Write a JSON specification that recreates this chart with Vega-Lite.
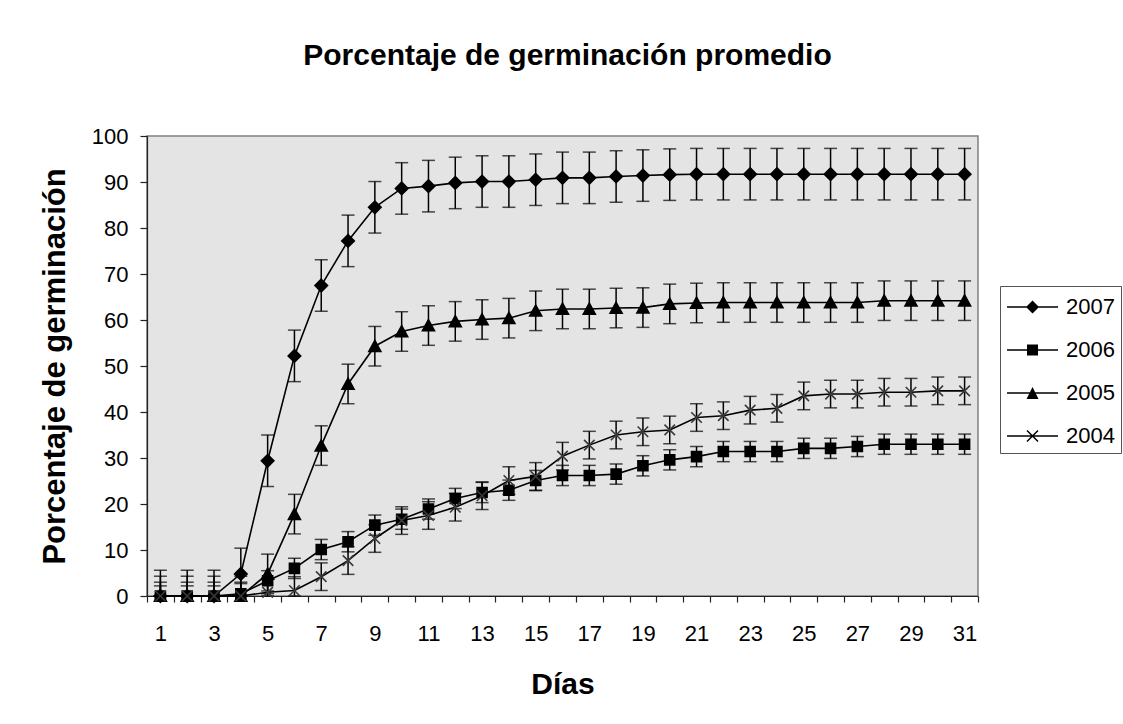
{
  "$schema": "https://vega.github.io/schema/vega-lite/v6.json",
  "autosize": {"type": "none"},
  "padding": {"left": 147, "top": 136, "right": 145, "bottom": 128},
  "width": 831,
  "height": 460,
  "background": "white",
  "title": {
    "text": "Porcentaje de germinación promedio",
    "font": "Liberation Sans",
    "fontSize": 30,
    "fontWeight": "bold",
    "color": "#000000",
    "anchor": "middle",
    "frame": "group",
    "baseline": "alphabetic",
    "offset": 30,
    "dx": 5
  },
  "config": {
    "view": {"fill": "#e4e4e4", "stroke": "#808080", "strokeWidth": 1.5},
    "axis": {
      "labelFont": "Liberation Sans",
      "labelFontSize": 22,
      "labelColor": "#000000",
      "titleFont": "Liberation Sans",
      "titleFontSize": 30,
      "titleFontWeight": "bold",
      "titleColor": "#000000",
      "domainColor": "#222222",
      "tickColor": "#222222",
      "domainWidth": 1.2,
      "tickWidth": 1.2,
      "grid": false
    }
  },
  "data": {
    "values": [
      {"day": 1, "year": "2007", "v": 0, "lo": 0, "hi": 5.6},
      {"day": 2, "year": "2007", "v": 0, "lo": 0, "hi": 5.6},
      {"day": 3, "year": "2007", "v": 0, "lo": 0, "hi": 5.6},
      {"day": 4, "year": "2007", "v": 4.8, "lo": 0, "hi": 10.4},
      {"day": 5, "year": "2007", "v": 29.4, "lo": 23.8, "hi": 35.0},
      {"day": 6, "year": "2007", "v": 52.2, "lo": 46.6, "hi": 57.8},
      {"day": 7, "year": "2007", "v": 67.5, "lo": 61.9, "hi": 73.1},
      {"day": 8, "year": "2007", "v": 77.2, "lo": 71.6, "hi": 82.8},
      {"day": 9, "year": "2007", "v": 84.5, "lo": 78.9, "hi": 90.1},
      {"day": 10, "year": "2007", "v": 88.6, "lo": 83.0, "hi": 94.2},
      {"day": 11, "year": "2007", "v": 89.1, "lo": 83.5, "hi": 94.7},
      {"day": 12, "year": "2007", "v": 89.8, "lo": 84.2, "hi": 95.4},
      {"day": 13, "year": "2007", "v": 90.1, "lo": 84.5, "hi": 95.7},
      {"day": 14, "year": "2007", "v": 90.1, "lo": 84.5, "hi": 95.7},
      {"day": 15, "year": "2007", "v": 90.5, "lo": 84.9, "hi": 96.1},
      {"day": 16, "year": "2007", "v": 90.9, "lo": 85.3, "hi": 96.5},
      {"day": 17, "year": "2007", "v": 90.9, "lo": 85.3, "hi": 96.5},
      {"day": 18, "year": "2007", "v": 91.2, "lo": 85.6, "hi": 96.8},
      {"day": 19, "year": "2007", "v": 91.4, "lo": 85.8, "hi": 97.0},
      {"day": 20, "year": "2007", "v": 91.6, "lo": 86.0, "hi": 97.2},
      {"day": 21, "year": "2007", "v": 91.7, "lo": 86.1, "hi": 97.3},
      {"day": 22, "year": "2007", "v": 91.7, "lo": 86.1, "hi": 97.3},
      {"day": 23, "year": "2007", "v": 91.7, "lo": 86.1, "hi": 97.3},
      {"day": 24, "year": "2007", "v": 91.7, "lo": 86.1, "hi": 97.3},
      {"day": 25, "year": "2007", "v": 91.7, "lo": 86.1, "hi": 97.3},
      {"day": 26, "year": "2007", "v": 91.7, "lo": 86.1, "hi": 97.3},
      {"day": 27, "year": "2007", "v": 91.7, "lo": 86.1, "hi": 97.3},
      {"day": 28, "year": "2007", "v": 91.7, "lo": 86.1, "hi": 97.3},
      {"day": 29, "year": "2007", "v": 91.7, "lo": 86.1, "hi": 97.3},
      {"day": 30, "year": "2007", "v": 91.7, "lo": 86.1, "hi": 97.3},
      {"day": 31, "year": "2007", "v": 91.7, "lo": 86.1, "hi": 97.3},

      {"day": 1, "year": "2006", "v": 0, "lo": 0, "hi": 2.2},
      {"day": 2, "year": "2006", "v": 0, "lo": 0, "hi": 2.2},
      {"day": 3, "year": "2006", "v": 0, "lo": 0, "hi": 2.2},
      {"day": 4, "year": "2006", "v": 0.5, "lo": 0, "hi": 2.7},
      {"day": 5, "year": "2006", "v": 3.3, "lo": 1.1, "hi": 5.5},
      {"day": 6, "year": "2006", "v": 6.0, "lo": 3.8, "hi": 8.2},
      {"day": 7, "year": "2006", "v": 10.1, "lo": 7.9, "hi": 12.3},
      {"day": 8, "year": "2006", "v": 11.8, "lo": 9.6, "hi": 14.0},
      {"day": 9, "year": "2006", "v": 15.4, "lo": 13.2, "hi": 17.6},
      {"day": 10, "year": "2006", "v": 16.7, "lo": 14.5, "hi": 18.9},
      {"day": 11, "year": "2006", "v": 18.9, "lo": 16.7, "hi": 21.1},
      {"day": 12, "year": "2006", "v": 21.2, "lo": 19.0, "hi": 23.4},
      {"day": 13, "year": "2006", "v": 22.5, "lo": 20.3, "hi": 24.7},
      {"day": 14, "year": "2006", "v": 23.0, "lo": 20.8, "hi": 25.2},
      {"day": 15, "year": "2006", "v": 25.1, "lo": 22.9, "hi": 27.3},
      {"day": 16, "year": "2006", "v": 26.2, "lo": 24.0, "hi": 28.4},
      {"day": 17, "year": "2006", "v": 26.2, "lo": 24.0, "hi": 28.4},
      {"day": 18, "year": "2006", "v": 26.5, "lo": 24.3, "hi": 28.7},
      {"day": 19, "year": "2006", "v": 28.3, "lo": 26.1, "hi": 30.5},
      {"day": 20, "year": "2006", "v": 29.6, "lo": 27.4, "hi": 31.8},
      {"day": 21, "year": "2006", "v": 30.3, "lo": 28.1, "hi": 32.5},
      {"day": 22, "year": "2006", "v": 31.4, "lo": 29.2, "hi": 33.6},
      {"day": 23, "year": "2006", "v": 31.4, "lo": 29.2, "hi": 33.6},
      {"day": 24, "year": "2006", "v": 31.4, "lo": 29.2, "hi": 33.6},
      {"day": 25, "year": "2006", "v": 32.1, "lo": 29.9, "hi": 34.3},
      {"day": 26, "year": "2006", "v": 32.1, "lo": 29.9, "hi": 34.3},
      {"day": 27, "year": "2006", "v": 32.5, "lo": 30.3, "hi": 34.7},
      {"day": 28, "year": "2006", "v": 33.0, "lo": 30.8, "hi": 35.2},
      {"day": 29, "year": "2006", "v": 33.0, "lo": 30.8, "hi": 35.2},
      {"day": 30, "year": "2006", "v": 33.0, "lo": 30.8, "hi": 35.2},
      {"day": 31, "year": "2006", "v": 33.0, "lo": 30.8, "hi": 35.2},

      {"day": 1, "year": "2005", "v": 0, "lo": 0, "hi": 4.3},
      {"day": 2, "year": "2005", "v": 0, "lo": 0, "hi": 4.3},
      {"day": 3, "year": "2005", "v": 0, "lo": 0, "hi": 4.3},
      {"day": 4, "year": "2005", "v": 0, "lo": 0, "hi": 4.3},
      {"day": 5, "year": "2005", "v": 4.8, "lo": 0.5, "hi": 9.1},
      {"day": 6, "year": "2005", "v": 17.8, "lo": 13.5, "hi": 22.1},
      {"day": 7, "year": "2005", "v": 32.7, "lo": 28.4, "hi": 37.0},
      {"day": 8, "year": "2005", "v": 46.1, "lo": 41.8, "hi": 50.4},
      {"day": 9, "year": "2005", "v": 54.3, "lo": 50.0, "hi": 58.6},
      {"day": 10, "year": "2005", "v": 57.5, "lo": 53.2, "hi": 61.8},
      {"day": 11, "year": "2005", "v": 58.8, "lo": 54.5, "hi": 63.1},
      {"day": 12, "year": "2005", "v": 59.7, "lo": 55.4, "hi": 64.0},
      {"day": 13, "year": "2005", "v": 60.1, "lo": 55.8, "hi": 64.4},
      {"day": 14, "year": "2005", "v": 60.4, "lo": 56.1, "hi": 64.7},
      {"day": 15, "year": "2005", "v": 62.0, "lo": 57.7, "hi": 66.3},
      {"day": 16, "year": "2005", "v": 62.4, "lo": 58.1, "hi": 66.7},
      {"day": 17, "year": "2005", "v": 62.4, "lo": 58.1, "hi": 66.7},
      {"day": 18, "year": "2005", "v": 62.6, "lo": 58.3, "hi": 66.9},
      {"day": 19, "year": "2005", "v": 62.7, "lo": 58.4, "hi": 67.0},
      {"day": 20, "year": "2005", "v": 63.5, "lo": 59.2, "hi": 67.8},
      {"day": 21, "year": "2005", "v": 63.7, "lo": 59.4, "hi": 68.0},
      {"day": 22, "year": "2005", "v": 63.8, "lo": 59.5, "hi": 68.1},
      {"day": 23, "year": "2005", "v": 63.8, "lo": 59.5, "hi": 68.1},
      {"day": 24, "year": "2005", "v": 63.8, "lo": 59.5, "hi": 68.1},
      {"day": 25, "year": "2005", "v": 63.8, "lo": 59.5, "hi": 68.1},
      {"day": 26, "year": "2005", "v": 63.8, "lo": 59.5, "hi": 68.1},
      {"day": 27, "year": "2005", "v": 63.8, "lo": 59.5, "hi": 68.1},
      {"day": 28, "year": "2005", "v": 64.2, "lo": 59.9, "hi": 68.5},
      {"day": 29, "year": "2005", "v": 64.2, "lo": 59.9, "hi": 68.5},
      {"day": 30, "year": "2005", "v": 64.2, "lo": 59.9, "hi": 68.5},
      {"day": 31, "year": "2005", "v": 64.2, "lo": 59.9, "hi": 68.5},

      {"day": 1, "year": "2004", "v": 0, "lo": 0, "hi": 3.0},
      {"day": 2, "year": "2004", "v": 0, "lo": 0, "hi": 3.0},
      {"day": 3, "year": "2004", "v": 0, "lo": 0, "hi": 3.0},
      {"day": 4, "year": "2004", "v": 0, "lo": 0, "hi": 3.0},
      {"day": 5, "year": "2004", "v": 0.8, "lo": 0, "hi": 3.8},
      {"day": 6, "year": "2004", "v": 1.2, "lo": 0, "hi": 4.2},
      {"day": 7, "year": "2004", "v": 4.2, "lo": 1.2, "hi": 7.2},
      {"day": 8, "year": "2004", "v": 7.7, "lo": 4.7, "hi": 10.7},
      {"day": 9, "year": "2004", "v": 12.5, "lo": 9.5, "hi": 15.5},
      {"day": 10, "year": "2004", "v": 16.4, "lo": 13.4, "hi": 19.4},
      {"day": 11, "year": "2004", "v": 17.5, "lo": 14.5, "hi": 20.5},
      {"day": 12, "year": "2004", "v": 19.3, "lo": 16.3, "hi": 22.3},
      {"day": 13, "year": "2004", "v": 21.8, "lo": 18.8, "hi": 24.8},
      {"day": 14, "year": "2004", "v": 25.1, "lo": 22.1, "hi": 28.1},
      {"day": 15, "year": "2004", "v": 26.0, "lo": 23.0, "hi": 29.0},
      {"day": 16, "year": "2004", "v": 30.4, "lo": 27.4, "hi": 33.4},
      {"day": 17, "year": "2004", "v": 32.8, "lo": 29.8, "hi": 35.8},
      {"day": 18, "year": "2004", "v": 35.0, "lo": 32.0, "hi": 38.0},
      {"day": 19, "year": "2004", "v": 35.7, "lo": 32.7, "hi": 38.7},
      {"day": 20, "year": "2004", "v": 36.1, "lo": 33.1, "hi": 39.1},
      {"day": 21, "year": "2004", "v": 38.8, "lo": 35.8, "hi": 41.8},
      {"day": 22, "year": "2004", "v": 39.2, "lo": 36.2, "hi": 42.2},
      {"day": 23, "year": "2004", "v": 40.4, "lo": 37.4, "hi": 43.4},
      {"day": 24, "year": "2004", "v": 40.8, "lo": 37.8, "hi": 43.8},
      {"day": 25, "year": "2004", "v": 43.5, "lo": 40.5, "hi": 46.5},
      {"day": 26, "year": "2004", "v": 43.9, "lo": 40.9, "hi": 46.9},
      {"day": 27, "year": "2004", "v": 43.9, "lo": 40.9, "hi": 46.9},
      {"day": 28, "year": "2004", "v": 44.3, "lo": 41.3, "hi": 47.3},
      {"day": 29, "year": "2004", "v": 44.3, "lo": 41.3, "hi": 47.3},
      {"day": 30, "year": "2004", "v": 44.6, "lo": 41.6, "hi": 47.6},
      {"day": 31, "year": "2004", "v": 44.6, "lo": 41.6, "hi": 47.6}
    ]
  },
  "encoding": {
    "x": {
      "field": "day",
      "type": "ordinal",
      "scale": {"type": "band", "paddingInner": 0, "paddingOuter": 0},
      "axis": {
        "title": "Días",
        "labelAngle": 0,
        "tickBand": "extent",
        "tickSize": 6,
        "labelPadding": 21,
        "titlePadding": 25,
        "labelExpr": "datum.value % 2 == 1 ? datum.label : ''"
      }
    }
  },
  "layer": [
    {
      "mark": {"type": "errorbar", "color": "#000000", "ticks": {"size": 13, "thickness": 1.5}, "rule": {"strokeWidth": 1.5}},
      "encoding": {
        "y": {"field": "lo", "type": "quantitative", "scale": {"domain": [0, 100]}, "title": "Porcentaje de germinación"},
        "y2": {"field": "hi"},
        "detail": {"field": "year"}
      }
    },
    {
      "mark": {"type": "line", "color": "#000000", "strokeWidth": 1.6},
      "encoding": {
        "y": {"field": "v", "type": "quantitative"},
        "detail": {"field": "year"}
      }
    },
    {
      "mark": {"type": "point", "filled": true, "fill": "#000000", "opacity": 1, "strokeWidth": 1.6, "size": 100},
      "encoding": {
        "y": {
          "field": "v",
          "type": "quantitative",
          "scale": {"domain": [0, 100]},
          "axis": {
            "title": "Porcentaje de germinación",
            "titleFontSize": 31,
            "values": [0, 10, 20, 30, 40, 50, 60, 70, 80, 90, 100],
            "tickSize": 7,
            "labelPadding": 12,
            "titlePadding": 20
          }
        },
        "stroke": {
          "condition": {"test": "datum.year == '2004'", "value": "#3a3a3a"},
          "value": "#000000"
        },
        "shape": {
          "field": "year",
          "type": "nominal",
          "scale": {
            "domain": ["2007", "2006", "2005", "2004"],
            "range": [
              "M0,-1.25L1.25,0L0,1.25L-1.25,0Z",
              "M-1,-1L1,-1L1,1L-1,1Z",
              "M0,-1.15L1.2,1.05L-1.2,1.05Z",
              "M-1.05,-1.05L1.05,1.05M1.05,-1.05L-1.05,1.05"
            ]
          },
          "legend": null
        }
      }
    },
    {
      "transform": [{"filter": "datum.day == 0"}],
      "mark": {"type": "point", "filled": true, "color": "#000000", "opacity": 1, "size": 900},
      "encoding": {
        "y": {"field": "v", "type": "quantitative"},
        "shape": {
          "field": "year",
          "type": "nominal",
          "scale": {
            "domain": ["2007", "2006", "2005", "2004"],
            "range": [
              "M-0.933,-0.05L2.467,-0.05L2.467,0.05L-0.933,0.05ZM0.767,-0.433L1.2,0L0.767,0.433L0.334,0Z",
              "M-0.933,-0.05L2.467,-0.05L2.467,0.05L-0.933,0.05ZM0.4,-0.367L1.134,-0.367L1.134,0.367L0.4,0.367Z",
              "M-0.933,-0.05L2.467,-0.05L2.467,0.05L-0.933,0.05ZM0.767,-0.4L1.167,0.4L0.367,0.4Z",
              "M-0.933,-0.05L2.467,-0.05L2.467,0.05L-0.933,0.05ZM0.435,-0.402L1.169,0.332L1.099,0.402L0.365,-0.332ZM1.169,-0.332L0.435,0.402L0.365,0.332L1.099,-0.402Z"
            ]
          },
          "legend": {
            "title": null,
            "orient": "none",
            "legendX": 853,
            "legendY": 150,
            "strokeColor": "#555555",
            "fillColor": "#ffffff",
            "padding": 6,
            "symbolSize": 900,
            "rowPadding": 17,
            "labelOffset": 30,
            "labelFont": "Liberation Sans",
            "labelFontSize": 22,
            "labelColor": "#000000",
            "symbolStrokeWidth": 0,
            "symbolFillColor": "#000000",
            "encode": {
              "symbols": {
                "update": {
                  "fill": {"value": "#000000"},
                  "opacity": {"value": 1}
                }
              }
            }
          }
        }
      }
    }
  ],
  "resolve": {"scale": {"shape": "independent"}}
}
